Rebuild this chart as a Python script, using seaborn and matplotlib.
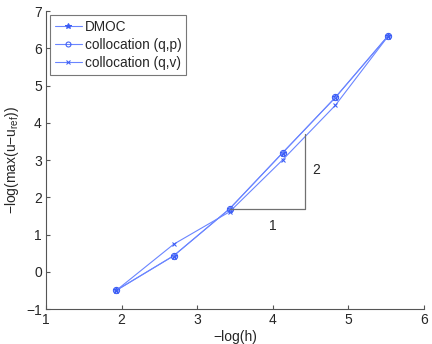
import numpy as np
import pandas as pd
import seaborn as sns
import matplotlib
matplotlib.use('Agg')
import matplotlib.pyplot as plt

# values
neg_log_h = [1.93, 2.69, 3.43, 4.13, 4.83, 5.53]
dmoc = [-0.50, 0.43, 1.69, 3.19, 4.68, 6.34]
coll_qp = [-0.50, 0.43, 1.69, 3.19, 4.68, 6.34]
coll_qv = [-0.50, 0.74, 1.61, 3.00, 4.47, 6.33]

# slope triangle
tri_x = [3.43, 4.43, 4.43]
tri_y = [1.69, 1.69, 3.69]

sns.set_style('ticks')
plt.rcParams['font.family'] = ['Liberation Sans', 'DejaVu Sans']
plt.rcParams['mathtext.fontset'] = 'custom'
plt.rcParams['mathtext.rm'] = 'Liberation Sans'

fig = plt.figure(figsize=(4.32, 3.44), dpi=100)
ax = fig.add_axes([0.1065, 0.1017, 0.8745, 0.8663])

line_col = '#6a85ff'
mk_col = '#3a5cf5'
sns.lineplot(x=neg_log_h, y=dmoc, ax=ax, color=line_col, lw=0.8, marker='*',
             markersize=5, markerfacecolor=mk_col, markeredgecolor=mk_col, label='DMOC')
sns.lineplot(x=neg_log_h, y=coll_qp, ax=ax, color=line_col, lw=0.8, marker='o',
             markersize=4.5, markerfacecolor='none', markeredgecolor=mk_col, label='collocation (q,p)')
sns.lineplot(x=neg_log_h, y=coll_qv, ax=ax, color=line_col, lw=0.8, marker='x',
             markersize=3, markeredgecolor=mk_col, label='collocation (q,v)')

ax.plot(tri_x, tri_y, color='#707070', lw=0.9)
ax.text(4.0, 1.23, '1', fontsize=10, ha='center', va='center')
ax.text(4.57, 2.72, '2', fontsize=10, ha='center', va='center')

ax.set_xlim(1, 6)
ax.set_ylim(-1, 7)
ax.set_xticks(range(1, 7))
ax.set_yticks(range(-1, 8))
ax.set_xticklabels(['1', '2', '3', '4', '5', '6'])
ax.set_yticklabels(['\u22121', '0', '1', '2', '3', '4', '5', '6', '7'])
ax.tick_params(direction='in', length=3, labelsize=10, color='#555555', pad=3)
sns.despine(ax=ax)
for s in ['left', 'bottom']:
    ax.spines[s].set_color('#555555')
    ax.spines[s].set_linewidth(0.8)

ax.set_xlabel('\u2212log(h)', fontsize=10, labelpad=2)
ax.set_ylabel('\u2212log(max(u\u2212u$_\\mathregular{ref}$))', fontsize=10, labelpad=4)

leg = ax.legend(loc='upper left', fontsize=9.8, frameon=True, fancybox=False,
                handlelength=2.0, handletextpad=0.2, borderpad=0.35, labelspacing=0.3,
                borderaxespad=0.3, markerscale=0.8)
leg.get_frame().set_edgecolor('#555555')
leg.get_frame().set_linewidth(0.8)

fig.savefig('out.png', dpi=100)
